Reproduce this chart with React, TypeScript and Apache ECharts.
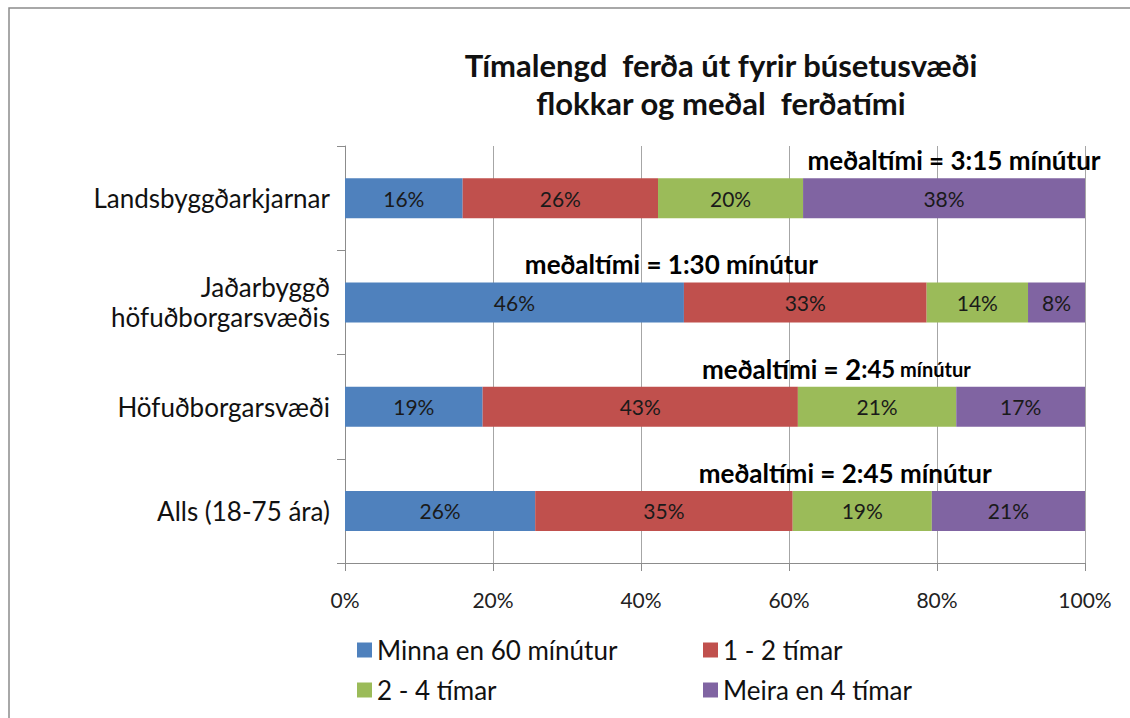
import React, { useEffect, useRef } from "react";
import * as echarts from "echarts";

const categories = [
  "Alls (18-75 ára)",
  "Höfuðborgarsvæði",
  "Jaðarbyggð\nhöfuðborgarsvæðis",
  "Landsbyggðarkjarnar",
];
const seriesNames = ["Minna en 60 mínútur", "1 - 2 tímar", "2 - 4 tímar", "Meira en 4 tímar"];
const minna60 = [25.7, 18.6, 45.8, 15.9];
const timar12 = [34.8, 42.6, 32.8, 26.4];
const timar24 = [18.8, 21.4, 13.7, 19.6];
const meira4 = [20.7, 17.4, 7.7, 38.1];
const seriesColors = ["#4F81BD", "#C0504D", "#9BBB59", "#8064A2"];
const xTicks = [0, 20, 40, 60, 80, 100];

// annotation: category, x centre (percent), rich text
const annotCategories = [
  "Landsbyggðarkjarnar",
  "Jaðarbyggð\nhöfuðborgarsvæðis",
  "Höfuðborgarsvæði",
  "Alls (18-75 ára)",
];
const annotX = [82.3, 44.1, 66.4, 67.6];
const annotTexts = [
  "{a|meðaltími = 3:15 mínútur}",
  "{a|meðaltími = 1:30 mínútur}",
  "{a|meðaltími = }{b|2}{c|:45}{d| mínútur}",
  "{a|meðaltími = 2:45 mínútur}",
];

const FONT = "Lato, 'Open Sans', sans-serif";

export default function App() {
  const ref = useRef<HTMLDivElement>(null);
  useEffect(() => {
    document.body.style.margin = "0";
    if (!ref.current) return;
    const chart = echarts.init(ref.current, null, { renderer: "svg" });
    const values = [minna60, timar12, timar24, meira4];
    const legendPos = [
      { left: 357, top: 637 },
      { left: 703, top: 637 },
      { left: 357, top: 677 },
      { left: 703, top: 677 },
    ];
    chart.setOption({
      animation: false,
      backgroundColor: "#ffffff",
      textStyle: { fontFamily: FONT },
      title: {
        text: "Tímalengd  ferða út fyrir búsetusvæði\nflokkar og meðal  ferðatími",
        left: 716,
        top: 41,
        textAlign: "center",
        textStyle: {
          fontFamily: FONT,
          fontSize: 31,
          fontWeight: "bold",
          color: "#111",
          lineHeight: 38,
        },
      },
      legend: seriesNames.map((n, i) => ({
        data: [n],
        left: legendPos[i].left,
        top: legendPos[i].top,
        padding: 0,
        icon: "rect",
        itemWidth: 15,
        itemHeight: 15,
        itemGap: 8,
        textStyle: { fontFamily: FONT, fontSize: 26, color: "#111" },
      })),
      grid: { left: 345, right: 45, top: 146, bottom: 155, containLabel: false },
      xAxis: {
        type: "value",
        min: 0,
        max: 100,
        interval: 20,
        axisLine: { show: true, lineStyle: { color: "#8c8c8c", width: 1 } },
        axisTick: { show: true, length: 8, lineStyle: { color: "#8c8c8c" } },
        splitLine: { show: true, lineStyle: { color: "#a6a6a6", width: 1 } },
        axisLabel: {
          formatter: (v: number) => (xTicks.includes(v) ? v + "%" : ""),
          fontFamily: FONT,
          fontSize: 21,
          color: "#222",
          margin: 26,
        },
      },
      yAxis: {
        type: "category",
        data: categories,
        axisLine: { show: true, lineStyle: { color: "#8c8c8c", width: 1 } },
        axisTick: { show: true, length: 8, alignWithLabel: false, lineStyle: { color: "#8c8c8c" } },
        axisLabel: {
          fontFamily: FONT,
          fontSize: 26,
          color: "#111",
          margin: 15,
          lineHeight: 30,
        },
      },
      series: seriesNames.map((n, i) => ({
        name: n,
        type: "bar",
        stack: "total",
        barWidth: 40,
        data: values[i],
        itemStyle: { color: seriesColors[i] },
        label: {
          show: true,
          position: "inside",
          formatter: (p: any) => Math.round(p.value) + "%",
          fontFamily: FONT,
          fontSize: 21,
          color: "#1a1a1a",
        },
      })),
    });

    const rich = {
      a: { fontFamily: FONT, fontSize: 26, fontWeight: "bold", color: "#111" },
      b: { fontFamily: FONT, fontSize: 28, fontWeight: "bold", color: "#111" },
      c: { fontFamily: FONT, fontSize: 24, fontWeight: "bold", color: "#111" },
      d: { fontFamily: FONT, fontSize: 20, fontWeight: "bold", color: "#111" },
    };
    const graphics: any[] = [
      {
        type: "rect",
        shape: { x: 9, y: 8, width: 1400, height: 1000 },
        style: { fill: "none", stroke: "#8c8c8c", lineWidth: 1.5 },
        silent: true,
      },
    ];
    annotCategories.forEach((c, i) => {
      const pt = chart.convertToPixel({ gridIndex: 0 }, [annotX[i], c]) as number[];
      graphics.push({
        type: "text",
        x: pt[0],
        y: pt[1] - 38,
        style: {
          text: annotTexts[i],
          rich,
          align: "center",
          verticalAlign: "middle",
        },
      });
    });
    chart.setOption({ graphic: graphics });

    return () => chart.dispose();
  }, []);
  return <div ref={ref} style={{ width: 1130, height: 718 }} />;
}
